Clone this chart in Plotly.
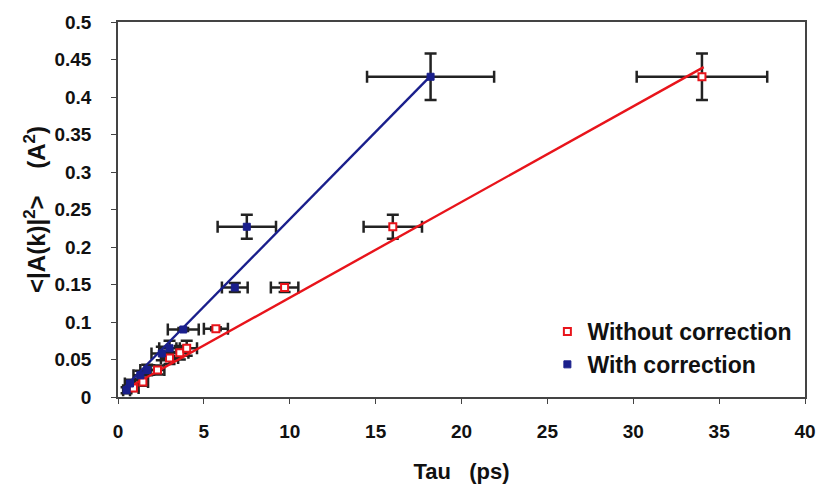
import plotly.graph_objects as go
import numpy as np

# Without correction (red, open squares)
red_x = [0.9, 1.45, 2.3, 3.0, 3.6, 4.0, 5.7, 9.7, 16.0, 34.0]
red_y = [0.012, 0.020, 0.036, 0.052, 0.059, 0.065, 0.091, 0.146, 0.227, 0.427]
red_xerr = [0.3, 0.3, 0.4, 0.5, 0.5, 0.6, 0.7, 0.8, 1.7, 3.8]
red_yerr = [0.004, 0.005, 0.006, 0.008, 0.009, 0.010, 0.002, 0.006, 0.016, 0.031]

# With correction (blue, filled squares)
blue_x = [0.5, 0.7, 1.3, 1.7, 2.55, 3.0, 3.8, 6.8, 7.5, 18.2]
blue_y = [0.009, 0.018, 0.029, 0.036, 0.058, 0.065, 0.090, 0.146, 0.227, 0.427]
blue_xerr = [0.2, 0.3, 0.4, 0.4, 0.6, 0.6, 0.9, 0.75, 1.7, 3.7]
blue_yerr = [0.004, 0.005, 0.006, 0.007, 0.009, 0.010, 0.002, 0.006, 0.016, 0.031]

# Linear fits
red_fit_slope, red_fit_intercept = 0.01275, 0.005
red_fit_range = [0.6, 34.1]
blue_fit_slope, blue_fit_intercept = 0.0233, 0.004
blue_fit_range = [0.3, 18.26]

x_ticks = [0, 5, 10, 15, 20, 25, 30, 35, 40]
y_ticks = [0, 0.05, 0.1, 0.15, 0.2, 0.25, 0.3, 0.35, 0.4, 0.45, 0.5]

RED = "#e8141b"
BLUE = "#1a1f8c"
FONT = "Liberation Sans"

fig = go.Figure()

err_style = dict(color="#222222", thickness=2.5, width=6)

for xs, ys, xe, ye in [(red_x, red_y, red_xerr, red_yerr), (blue_x, blue_y, blue_xerr, blue_yerr)]:
    fig.add_trace(go.Scatter(
        x=xs, y=ys, mode="markers", showlegend=False,
        marker=dict(size=1, color="rgba(0,0,0,0)"),
        error_x=dict(type="data", array=xe, visible=True, **err_style),
        error_y=dict(type="data", array=ye, visible=True, **err_style),
    ))

rx = np.array(red_fit_range)
bx = np.array(blue_fit_range)
fig.add_trace(go.Scatter(x=rx, y=red_fit_slope * rx + red_fit_intercept, mode="lines",
                         line=dict(color=RED, width=2.4), showlegend=False))
fig.add_trace(go.Scatter(x=bx, y=blue_fit_slope * bx + blue_fit_intercept, mode="lines",
                         line=dict(color=BLUE, width=2.4), showlegend=False))

fig.add_trace(go.Scatter(
    x=red_x, y=red_y, mode="markers", name="Without correction",
    marker=dict(symbol="square", size=7, color="white", line=dict(color=RED, width=2)),
))
fig.add_trace(go.Scatter(
    x=blue_x, y=blue_y, mode="markers", name="With correction",
    marker=dict(symbol="square", size=7, color=BLUE, line=dict(color=BLUE, width=1)),
))

axis_common = dict(
    showgrid=False, zeroline=False, showline=True, linecolor="#444444", linewidth=1.5,
    mirror=True, ticks="outside", ticklen=5, tickcolor="#444444",
    tickfont=dict(family=FONT, size=19, color="#111111", weight="bold"),
)

fig.update_layout(
    width=828, height=494,
    margin=dict(l=118, r=18, t=19, b=97),
    paper_bgcolor="white", plot_bgcolor="white",
    xaxis=dict(range=[0, 40], tickvals=x_ticks, ticktext=[str(v) for v in x_ticks],
               ticklabelstandoff=11,
               title=dict(text="Tau&nbsp;&nbsp;&nbsp;(ps)", standoff=23,
                          font=dict(family=FONT, size=22, color="#111111", weight="bold")),
               **axis_common),
    yaxis=dict(range=[0, 0.5], tickvals=y_ticks, ticktext=[f"{v:g}" for v in y_ticks],
               ticklabelstandoff=16,
               title=dict(text="&lt;|A(k)|<sup>2</sup>&gt;&nbsp;&nbsp;&nbsp;&nbsp;(A<sup>2</sup>)", standoff=2,
                          font=dict(family=FONT, size=24, color="#111111", weight="bold")),
               **axis_common),
    legend=dict(x=0.625, y=0.232, xanchor="left", yanchor="top", bgcolor="rgba(0,0,0,0)",
                font=dict(family=FONT, size=23, color="#111111", weight="bold"),
                itemwidth=30, tracegroupgap=0),
)

fig.write_html("out.html")
